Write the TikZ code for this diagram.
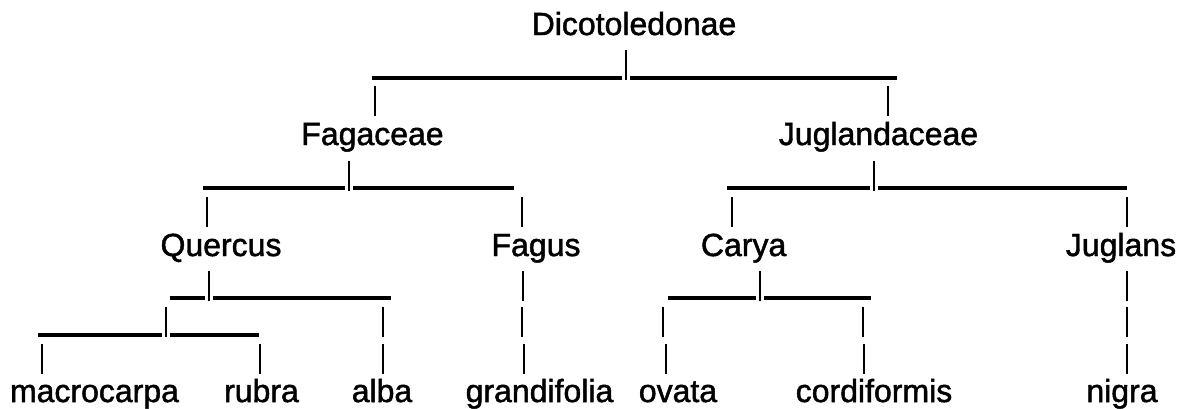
\documentclass[tikz,border=0pt]{standalone}
\usepackage{fontspec}
\setmainfont{Liberation Sans}
\newfontfamily\taxfont[FakeBold=1.5]{Liberation Sans}
% vertical bars: #1 = horizontal position, #2/#3 = top/bottom of the text row
\newcommand\treebar[3]{\draw[bar] (#1,#2) -- (#1,#3);}
% horizontal run from #1 to #2 at height #3
\newcommand\treerun[3]{\draw[run] (#1,#3) -- (#2,#3);}
\begin{document}
\begin{tikzpicture}[x=1pt,y=-1pt,
  taxon/.style={inner sep=0pt, anchor=base, font=\taxfont\fontsize{32}{38}\selectfont},
  bar/.style={line width=2.9pt, black},
  run/.style={line width=3.1pt, black}]
\useasboundingbox (0,0) rectangle (1180,408);

% ---- names, one row per rank ----
\node[taxon] (dic) at (634,35) {Dicotoledonae};

\node[taxon] (fag) at (372.5,145) {Fagaceae};
\node[taxon] (jug) at (878.5,145) {Juglandaceae};

\node[taxon] (que) at (221,256) {Quercus};
\node[taxon] (fgs) at (536,256) {Fagus};
\node[taxon] (car) at (743.6,256) {Carya};
\node[taxon] (jgl) at (1121,256) {Juglans};

\node[taxon] (mac) at (94.5,402) {macrocarpa};
\node[taxon] (rub) at (261.5,402) {rubra};
\node[taxon] (alb) at (382,402) {alba};
\node[taxon] (gra) at (539.5,402) {grandifolia};
\node[taxon] (ova) at (678,402) {ovata};
\node[taxon] (cor) at (874,402) {cordiformis};
\node[taxon] (nig) at (1122,402) {nigra};

% ---- Dicotoledonae split ----
\treerun{372}{622}{78} \treerun{630}{897}{78}
\treebar{626}{50}{80}
\treebar{375}{86}{116} \treebar{888}{86}{116}

% ---- family splits ----
\treerun{203}{345}{188} \treerun{353}{514}{188}
\treebar{349}{161}{191}
\treerun{727}{870}{188} \treerun{878}{1127}{188}
\treebar{874}{161}{191}
\treebar{207}{197}{227} \treebar{522}{197}{227}
\treebar{732}{197}{227} \treebar{1127}{197}{227}

% ---- Quercus ----
\treerun{170}{205}{298} \treerun{213}{391}{298}
\treebar{209}{271}{301}
\treerun{38}{162}{335} \treerun{170}{259}{335}
\treebar{166}{307}{337}
\treebar{383}{307}{337}
\treebar{42}{344}{374} \treebar{260}{344}{374} \treebar{383}{344}{374}

% ---- Fagus ----
\treebar{523}{271}{301} \treebar{522}{307}{337} \treebar{524}{344}{374}

% ---- Carya ----
\treerun{668}{756}{298} \treerun{764}{871}{298}
\treebar{760}{271}{301}
\treebar{663}{307}{337} \treebar{863}{307}{337}
\treebar{666}{344}{374} \treebar{864}{344}{374}

% ---- Juglans ----
\treebar{1127}{271}{301} \treebar{1127}{307}{337} \treebar{1127}{344}{374}
\end{tikzpicture}
\end{document}
